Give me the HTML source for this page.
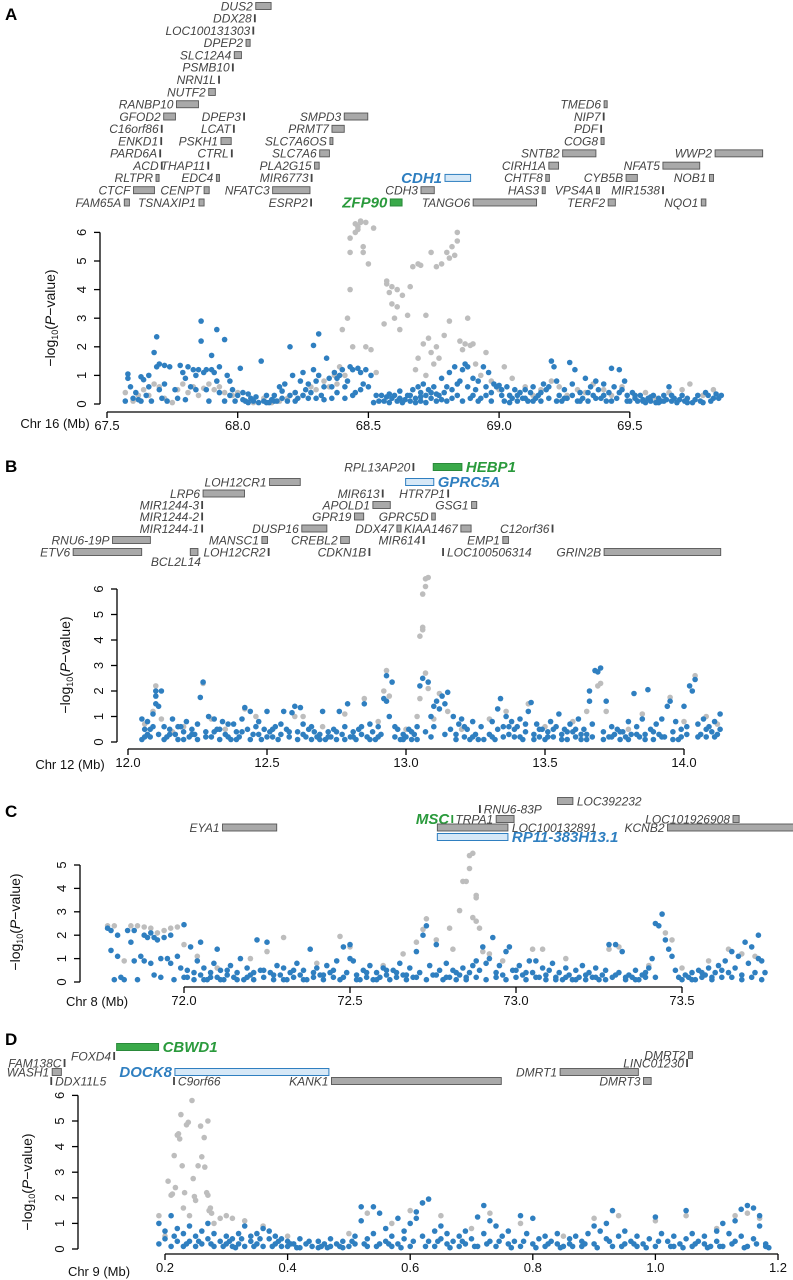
<!DOCTYPE html>
<html><head><meta charset="utf-8">
<style>
html,body{margin:0;padding:0;background:#fff;}
svg{display:block;font-family:"Liberation Sans",Arial,sans-serif;}
.gl{font-style:italic;font-size:12px;fill:#444;}
.tk{font-size:13px;fill:#111;}
</style></head>
<body>
<svg id="fig" width="793" height="1280" viewBox="0 0 793 1280" xmlns="http://www.w3.org/2000/svg"></svg>
<script>
// ===== DATA =====
const panelLabels = ["A","B","C","D"];
const chromLabels = ["Chr 16 (Mb)","Chr 12 (Mb)","Chr 8 (Mb)","Chr 9 (Mb)"];
const xTicksA = [67.5,68.0,68.5,69.0,69.5];
const xTicksB = [12.0,12.5,13.0,13.5,14.0];
const xTicksC = [72.0,72.5,73.0,73.5];
const xTicksD = [0.2,0.4,0.6,0.8,1.0,1.2];
const yTicksA = [0,1,2,3,4,5,6];
const yTicksB = [0,1,2,3,4,5,6];
const yTicksC = [0,1,2,3,4,5];
const yTicksD = [0,1,2,3,4,5,6];

const blueA = [[67.57,0.1],[67.58,0.9],[67.58,1.05],[67.6,0.2],[67.61,0.4],[67.62,0.15],[67.63,0.95],[67.64,0.85],[67.65,0.3],[67.66,1.0],[67.67,0.1],[67.68,1.8],[67.69,2.35],[67.69,1.3],[67.7,0.5],[67.7,1.4],[67.71,0.2],[67.72,1.35],[67.72,0.7],[67.74,1.3],[67.76,0.5],[67.77,0.2],[67.78,1.35],[67.79,1.1],[67.8,0.15],[67.81,1.3],[67.82,0.6],[67.83,1.2],[67.84,1.0],[67.85,1.2],[67.86,2.9],[67.86,2.2],[67.87,1.1],[67.88,0.5],[67.88,1.2],[67.89,0.1],[67.9,1.7],[67.9,1.2],[67.91,1.1],[67.92,2.6],[67.93,1.3],[67.93,0.4],[67.95,2.25],[67.95,0.1],[67.96,1.0],[67.97,0.8],[67.98,0.5],[67.99,0.1],[68.0,0.3],[68.01,1.25],[68.02,0.4],[68.03,0.1],[68.04,0.05],[68.05,0.2],[68.06,0.1],[68.08,0.05],[68.09,1.5],[68.1,0.1],[68.11,0.3],[68.12,0.05],[68.13,0.15],[68.14,0.3],[68.15,0.1],[68.16,0.6],[68.17,0.2],[68.18,0.7],[68.19,0.1],[68.2,2.0],[68.2,0.3],[68.21,1.0],[68.22,0.4],[68.23,0.2],[68.24,0.8],[68.25,1.1],[68.26,0.5],[68.27,0.2],[68.28,0.4],[68.29,2.05],[68.29,1.2],[68.3,0.8],[68.31,2.45],[68.31,1.0],[68.32,0.3],[68.33,0.6],[68.34,1.6],[68.35,0.9],[68.36,0.2],[68.37,1.1],[68.38,0.4],[68.39,1.0],[68.4,1.2],[68.41,0.2],[68.42,0.8],[68.43,1.3],[68.44,1.2],[68.45,0.4],[68.46,1.25],[68.47,1.1],[68.48,0.7],[68.49,1.2],[68.5,0.6],[68.51,1.0],[68.52,0.05],[68.53,0.3],[68.55,0.3],[68.56,0.1],[68.57,0.25],[68.58,0.05],[68.59,0.2],[68.6,0.3],[68.61,0.1],[68.62,0.2],[68.63,0.05],[68.64,0.15],[68.65,0.3],[68.66,0.1],[68.67,0.5],[68.68,0.2],[68.69,0.6],[68.7,0.4],[68.7,0.1],[68.71,0.7],[68.72,0.3],[68.73,0.5],[68.74,0.2],[68.75,0.6],[68.76,0.1],[68.77,0.3],[68.78,0.9],[68.79,0.4],[68.8,0.1],[68.81,1.1],[68.82,0.5],[68.83,1.3],[68.84,0.3],[68.85,0.8],[68.86,1.2],[68.87,1.4],[68.88,0.6],[68.88,1.3],[68.89,0.2],[68.9,0.9],[68.91,0.5],[68.92,0.8],[68.93,0.2],[68.94,1.3],[68.95,0.6],[68.96,1.1],[68.97,0.4],[68.98,0.7],[68.99,0.6],[69.0,0.65],[69.01,0.3],[69.02,0.1],[69.03,0.6],[69.04,0.3],[69.05,0.2],[69.06,0.5],[69.07,0.1],[69.08,0.4],[69.09,0.2],[69.1,0.5],[69.11,0.1],[69.12,0.4],[69.13,0.6],[69.14,0.2],[69.15,0.3],[69.16,0.1],[69.17,0.7],[69.18,0.5],[69.19,0.2],[69.2,1.5],[69.21,1.3],[69.22,0.8],[69.23,0.3],[69.24,0.1],[69.25,0.5],[69.26,0.2],[69.27,1.45],[69.28,0.7],[69.29,1.2],[69.3,0.1],[69.31,0.4],[69.32,0.2],[69.33,0.9],[69.34,0.1],[69.35,0.6],[69.36,0.3],[69.37,0.8],[69.38,0.5],[69.39,0.2],[69.4,0.7],[69.41,0.1],[69.42,0.4],[69.43,1.25],[69.44,0.6],[69.45,0.2],[69.46,1.2],[69.47,0.5],[69.48,0.8],[69.49,0.3],[69.5,0.1],[69.51,0.4],[69.52,0.2],[69.53,0.1],[69.54,0.3],[69.55,0.15],[69.56,0.05],[69.57,0.2],[69.58,0.1],[69.59,0.3],[69.6,0.05],[69.61,0.2],[69.62,0.1],[69.63,0.3],[69.64,0.15],[69.65,0.6],[69.66,0.1],[69.67,0.2],[69.68,0.05],[69.7,0.3],[69.71,0.1],[69.72,0.2],[69.74,0.05],[69.75,0.15],[69.77,0.1],[69.79,0.4],[69.8,0.3],[69.81,0.1],[69.83,0.35],[69.84,0.2]];
const blueA2 = [[67.59,0.6],[67.63,0.1],[67.66,0.6],[67.73,0.1],[67.8,0.9],[67.84,0.5],[67.92,0.8],[67.97,0.3],[68.02,0.15],[68.04,0.35],[68.07,0.25],[68.11,0.05],[68.14,0.1],[68.17,0.45],[68.22,0.1],[68.25,0.3],[68.27,0.7],[68.3,0.2],[68.33,0.15],[68.36,0.6],[68.38,0.9],[68.41,0.6],[68.44,0.3],[68.47,0.5],[68.54,0.1],[68.58,0.35],[68.62,0.45],[68.66,0.3],[68.68,0.05],[68.7,0.25],[68.72,0.05],[68.74,0.4],[68.76,0.35],[68.78,0.15],[68.8,0.6],[68.82,0.2],[68.84,0.7],[68.86,0.1],[68.9,0.3],[68.92,0.1],[68.95,0.3],[68.97,0.1],[69.01,0.5],[69.04,0.05],[69.07,0.3],[69.1,0.2],[69.13,0.1],[69.16,0.4],[69.19,0.6],[69.22,0.1],[69.25,0.2],[69.28,0.3],[69.31,0.1],[69.34,0.4],[69.37,0.2],[69.4,0.3],[69.43,0.1],[69.46,0.4],[69.49,0.1],[69.52,0.3],[69.55,0.1],[69.58,0.25],[69.61,0.05],[69.63,0.1],[69.66,0.3],[69.69,0.15],[69.72,0.05],[69.76,0.3],[69.78,0.05],[69.82,0.2],[69.85,0.3]];
const greyA = [[67.57,0.4],[67.6,0.1],[67.62,0.3],[67.64,0.5],[67.66,0.3],[67.68,0.7],[67.7,0.6],[67.72,0.2],[67.75,0.05],[67.77,0.5],[67.79,0.7],[67.81,0.4],[67.83,0.6],[67.85,0.3],[67.87,0.55],[67.89,0.7],[67.91,0.5],[67.93,0.6],[67.95,0.4],[67.98,0.3],[68.0,0.4],[68.03,0.1],[68.06,0.05],[68.1,0.2],[68.13,0.05],[68.16,0.1],[68.19,0.2],[68.22,0.4],[68.25,0.3],[68.28,0.6],[68.3,0.5],[68.33,0.8],[68.35,0.6],[68.37,1.0],[68.38,0.7],[68.39,1.3],[68.4,2.6],[68.41,1.0],[68.42,3.0],[68.43,4.0],[68.43,5.3],[68.43,5.8],[68.44,2.0],[68.45,6.0],[68.45,6.3],[68.46,6.1],[68.46,6.2],[68.47,6.4],[68.47,6.35],[68.48,5.3],[68.48,5.5],[68.49,2.0],[68.49,6.35],[68.5,4.9],[68.51,1.9],[68.52,6.15],[68.53,1.1],[68.56,2.8],[68.57,4.2],[68.57,4.3],[68.58,3.9],[68.59,3.5],[68.59,4.1],[68.6,3.0],[68.61,3.4],[68.61,4.0],[68.62,2.6],[68.63,3.8],[68.65,3.1],[68.66,4.1],[68.67,4.8],[68.68,1.2],[68.69,4.9],[68.69,1.6],[68.7,4.85],[68.71,2.1],[68.72,3.1],[68.72,1.0],[68.73,2.3],[68.74,1.8],[68.74,5.3],[68.75,1.4],[68.76,4.8],[68.76,2.0],[68.77,1.6],[68.78,4.9],[68.79,2.4],[68.8,5.3],[68.81,5.1],[68.81,2.9],[68.82,5.5],[68.83,5.2],[68.84,6.0],[68.84,5.7],[68.85,2.2],[68.86,1.9],[68.87,2.1],[68.88,3.0],[68.89,2.05],[68.9,2.1],[68.91,1.4],[68.93,1.0],[68.95,1.8],[68.97,0.8],[69.0,0.5],[69.02,1.3],[69.05,0.9],[69.08,0.4],[69.1,0.6],[69.13,0.3],[69.16,0.5],[69.2,0.8],[69.23,0.6],[69.26,0.3],[69.3,0.5],[69.33,0.4],[69.36,0.7],[69.4,0.5],[69.43,0.3],[69.47,0.6],[69.52,0.3],[69.56,0.4],[69.6,0.2],[69.65,0.4],[69.7,0.5],[69.73,0.7],[69.78,0.3],[69.82,0.5]];

const blueB = [[12.05,0.9],[12.05,0.1],[12.06,0.5],[12.07,0.3],[12.07,0.8],[12.08,0.2],[12.09,1.1],[12.09,0.6],[12.1,2.0],[12.1,1.5],[12.1,1.8],[12.11,1.4],[12.11,0.3],[12.12,2.0],[12.13,0.6],[12.14,0.2],[12.15,0.5],[12.16,0.9],[12.17,0.3],[12.18,0.1],[12.19,0.6],[12.2,0.4],[12.21,0.8],[12.22,0.2],[12.23,0.5],[12.24,0.3],[12.25,0.7],[12.26,1.75],[12.27,2.35],[12.28,0.4],[12.29,1.0],[12.3,0.2],[12.31,0.9],[12.32,0.5],[12.33,0.1],[12.34,0.8],[12.35,0.3],[12.36,0.7],[12.37,0.1],[12.38,0.7],[12.39,0.4],[12.4,0.2],[12.41,0.9],[12.42,1.35],[12.43,0.5],[12.44,1.2],[12.45,0.3],[12.46,0.6],[12.47,0.8],[12.48,0.1],[12.49,0.5],[12.5,1.2],[12.51,0.4],[12.52,0.2],[12.53,0.6],[12.54,0.1],[12.55,0.3],[12.56,1.2],[12.57,0.5],[12.58,0.2],[12.59,1.15],[12.6,1.4],[12.61,0.4],[12.62,1.35],[12.63,0.7],[12.64,0.2],[12.65,0.5],[12.66,0.1],[12.67,0.4],[12.68,0.2],[12.69,0.3],[12.7,1.2],[12.71,0.1],[12.72,0.4],[12.73,0.2],[12.74,0.5],[12.75,0.1],[12.76,1.2],[12.77,0.3],[12.78,0.6],[12.79,1.5],[12.8,0.2],[12.81,0.4],[12.82,0.1],[12.83,0.5],[12.84,0.3],[12.85,1.5],[12.86,0.2],[12.87,0.7],[12.88,0.4],[12.89,0.1],[12.9,0.6],[12.91,0.3],[12.92,1.7],[12.93,2.6],[12.93,1.6],[12.94,1.0],[12.95,2.35],[12.96,0.2],[12.97,0.5],[12.98,0.1],[12.99,0.3],[13.0,0.2],[13.01,0.5],[13.02,0.1],[13.03,0.3],[13.04,0.6],[13.05,2.2],[13.06,2.5],[13.07,0.4],[13.08,2.35],[13.09,1.0],[13.1,1.4],[13.1,0.6],[13.11,1.6],[13.12,1.3],[13.13,1.8],[13.14,1.5],[13.15,1.95],[13.16,0.5],[13.17,1.0],[13.18,0.3],[13.19,0.7],[13.2,0.9],[13.21,0.2],[13.22,0.5],[13.23,0.1],[13.24,0.8],[13.25,0.3],[13.26,0.1],[13.27,0.6],[13.3,0.3],[13.31,0.8],[13.32,0.1],[13.33,1.3],[13.34,1.7],[13.35,0.6],[13.36,1.0],[13.37,0.3],[13.38,0.8],[13.39,0.2],[13.4,0.6],[13.41,0.9],[13.42,0.1],[13.43,0.4],[13.44,1.2],[13.45,1.55],[13.46,0.3],[13.47,0.7],[13.48,0.2],[13.49,0.5],[13.5,0.1],[13.51,0.4],[13.52,0.8],[13.53,0.2],[13.54,0.6],[13.55,1.1],[13.56,0.3],[13.57,0.5],[13.58,0.1],[13.59,0.7],[13.6,0.4],[13.61,0.2],[13.62,0.9],[13.63,0.1],[13.64,0.5],[13.65,0.3],[13.66,2.0],[13.66,1.6],[13.67,0.7],[13.68,2.8],[13.69,2.75],[13.7,2.9],[13.71,0.4],[13.72,1.6],[13.73,0.2],[13.74,0.6],[13.75,0.3],[13.76,0.5],[13.77,0.1],[13.78,0.4],[13.79,0.2],[13.8,0.8],[13.81,0.3],[13.82,1.9],[13.83,0.6],[13.84,0.2],[13.85,0.9],[13.86,0.3],[13.87,2.05],[13.88,0.5],[13.89,0.1],[13.9,0.7],[13.91,0.3],[13.92,0.9],[13.93,0.2],[13.94,1.4],[13.95,1.6],[13.96,0.4],[13.97,0.8],[13.98,0.1],[13.99,0.5],[14.0,1.4],[14.01,0.6],[14.02,2.2],[14.03,2.0],[14.04,2.45],[14.05,0.7],[14.06,0.3],[14.07,0.9],[14.08,0.2],[14.09,0.6],[14.1,0.4],[14.11,0.8],[14.12,0.3],[14.13,1.1]];
const blueB2 = [[12.06,0.2],[12.08,0.5],[12.13,0.1],[12.15,0.3],[12.18,0.6],[12.2,0.1],[12.23,0.3],[12.25,0.1],[12.28,0.2],[12.31,0.4],[12.33,0.5],[12.36,0.2],[12.39,0.1],[12.41,0.4],[12.44,0.1],[12.47,0.3],[12.5,0.2],[12.52,0.5],[12.55,0.7],[12.58,0.4],[12.61,0.1],[12.63,0.3],[12.66,0.6],[12.69,0.1],[12.72,0.2],[12.75,0.4],[12.78,0.1],[12.81,0.2],[12.84,0.6],[12.87,0.1],[12.9,0.2],[12.96,0.6],[12.99,0.1],[13.02,0.4],[13.04,0.1],[13.09,0.2],[13.14,0.3],[13.18,0.1],[13.21,0.6],[13.24,0.2],[13.28,0.1],[13.31,0.2],[13.33,0.5],[13.35,0.2],[13.37,0.6],[13.39,0.5],[13.41,0.2],[13.43,0.7],[13.46,0.1],[13.48,0.5],[13.51,0.2],[13.53,0.5],[13.56,0.1],[13.58,0.4],[13.61,0.5],[13.63,0.3],[13.65,0.1],[13.67,0.2],[13.71,0.1],[13.74,0.2],[13.77,0.4],[13.8,0.1],[13.83,0.3],[13.86,0.1],[13.89,0.4],[13.92,0.2],[13.96,0.1],[13.99,0.2],[14.01,0.3],[14.05,0.2],[14.08,0.5],[14.11,0.2],[14.13,0.5]];
const greyB = [[12.06,0.7],[12.09,1.2],[12.1,2.2],[12.12,0.9],[12.16,0.4],[12.2,0.6],[12.27,2.3],[12.3,0.9],[12.35,0.5],[12.42,1.3],[12.46,1.0],[12.52,0.5],[12.6,1.0],[12.63,1.0],[12.7,0.6],[12.78,1.1],[12.85,1.7],[12.9,0.8],[12.92,2.0],[12.93,2.8],[12.94,1.8],[13.0,0.5],[13.04,1.0],[13.05,1.7],[13.05,4.15],[13.06,4.4],[13.06,4.5],[13.06,5.8],[13.07,6.1],[13.07,6.4],[13.08,6.45],[13.07,2.7],[13.08,2.1],[13.1,0.9],[13.12,1.9],[13.15,1.2],[13.2,0.5],[13.3,0.9],[13.36,1.2],[13.44,1.5],[13.5,0.6],[13.6,0.8],[13.65,1.2],[13.69,2.2],[13.7,2.3],[13.72,1.2],[13.8,0.5],[13.85,1.1],[13.95,1.75],[14.0,0.8],[14.04,2.6],[14.08,1.0],[14.12,0.7]];

const blueC = [[71.77,2.3],[71.78,2.2],[71.78,1.35],[71.79,0.1],[71.8,2.0],[71.8,1.1],[71.81,0.2],[71.82,0.1],[71.83,2.2],[71.84,1.7],[71.85,0.9],[71.85,2.2],[71.86,0.1],[71.87,1.1],[71.88,2.0],[71.88,0.9],[71.89,1.9],[71.9,2.1],[71.9,0.8],[71.91,1.9],[71.91,0.3],[71.92,1.8],[71.93,1.0],[71.93,0.2],[71.94,1.9],[71.95,1.0],[71.96,2.0],[71.96,0.8],[71.97,0.1],[71.98,1.1],[71.99,0.6],[72.0,2.45],[72.0,0.2],[72.01,0.5],[72.02,1.5],[72.03,0.1],[72.04,0.9],[72.05,1.7],[72.05,0.3],[72.06,0.6],[72.07,0.1],[72.08,0.4],[72.09,0.8],[72.1,1.4],[72.1,0.2],[72.11,0.5],[72.12,0.1],[72.13,0.3],[72.14,0.7],[72.15,0.2],[72.16,0.4],[72.17,1.0],[72.18,0.1],[72.19,0.6],[72.2,0.3],[72.21,0.1],[72.22,1.8],[72.23,0.5],[72.24,0.2],[72.25,1.7],[72.26,0.4],[72.27,0.1],[72.28,0.7],[72.29,0.3],[72.3,0.6],[72.31,0.1],[72.32,0.4],[72.33,0.2],[72.34,0.8],[72.35,0.3],[72.36,0.5],[72.37,0.1],[72.38,1.4],[72.39,0.2],[72.4,0.6],[72.41,0.3],[72.42,0.1],[72.43,0.7],[72.44,0.4],[72.45,0.2],[72.46,0.9],[72.47,0.1],[72.48,1.5],[72.49,0.4],[72.5,1.6],[72.5,1.0],[72.51,0.9],[72.52,0.3],[72.53,0.1],[72.54,0.5],[72.55,0.2],[72.56,0.7],[72.57,0.1],[72.58,0.4],[72.59,0.2],[72.6,0.6],[72.61,0.3],[72.62,0.1],[72.63,0.5],[72.64,0.2],[72.65,0.8],[72.66,0.3],[72.67,0.1],[72.68,0.6],[72.69,0.2],[72.7,1.3],[72.71,0.4],[72.72,2.0],[72.73,2.4],[72.74,0.7],[72.75,0.3],[72.76,1.6],[72.77,0.5],[72.78,0.1],[72.79,0.8],[72.8,0.2],[72.81,0.5],[72.82,0.1],[72.83,0.3],[72.84,0.6],[72.85,0.2],[72.86,0.4],[72.87,0.7],[72.88,0.9],[72.89,0.5],[72.9,1.5],[72.91,0.8],[72.92,1.0],[72.93,1.9],[72.94,0.4],[72.95,0.7],[72.96,0.3],[72.97,1.3],[72.98,1.5],[72.99,0.5],[73.0,0.2],[73.01,0.7],[73.02,0.3],[73.03,0.1],[73.04,0.9],[73.05,0.4],[73.06,0.9],[73.07,0.2],[73.08,0.6],[73.09,0.1],[73.1,0.5],[73.11,0.8],[73.12,0.2],[73.13,0.4],[73.14,0.1],[73.15,0.6],[73.16,0.3],[73.17,0.1],[73.18,0.5],[73.19,0.2],[73.2,0.7],[73.21,0.1],[73.22,0.4],[73.23,0.2],[73.24,0.6],[73.25,0.1],[73.26,0.3],[73.27,0.5],[73.28,1.6],[73.29,0.2],[73.3,1.6],[73.31,0.4],[73.32,1.3],[73.33,0.1],[73.34,0.3],[73.35,0.2],[73.36,0.5],[73.37,0.1],[73.38,0.3],[73.39,0.2],[73.4,0.6],[73.41,1.0],[73.42,2.5],[73.43,2.4],[73.44,2.9],[73.45,1.8],[73.46,1.4],[73.47,1.1],[73.48,0.5],[73.5,0.1],[73.51,0.3],[73.52,0.2],[73.53,0.4],[73.54,0.1],[73.55,0.5],[73.56,0.2],[73.57,0.3],[73.58,0.6],[73.59,0.1],[73.6,0.4],[73.61,0.7],[73.62,0.2],[73.63,0.9],[73.64,0.4],[73.65,1.3],[73.66,0.6],[73.67,1.1],[73.68,0.3],[73.69,1.7],[73.7,0.8],[73.71,1.5],[73.72,0.4],[73.73,2.0],[73.73,1.0],[73.74,0.1],[73.74,0.9]];
const blueC2 = [[72.01,0.2],[72.03,0.4],[72.06,0.1],[72.08,0.2],[72.11,0.1],[72.13,0.5],[72.16,0.1],[72.19,0.2],[72.21,0.4],[72.24,0.5],[72.27,0.3],[72.3,0.1],[72.33,0.5],[72.36,0.1],[72.39,0.4],[72.42,0.3],[72.45,0.5],[72.48,0.2],[72.52,0.1],[72.55,0.4],[72.58,0.1],[72.61,0.5],[72.64,0.4],[72.67,0.3],[72.7,0.2],[72.73,0.1],[72.76,0.3],[72.79,0.2],[72.82,0.4],[72.85,0.1],[72.88,0.2],[72.91,0.1],[72.94,0.2],[72.97,0.1],[73.0,0.5],[73.03,0.4],[73.06,0.2],[73.09,0.3],[73.12,0.1],[73.15,0.2],[73.18,0.1],[73.21,0.3],[73.24,0.2],[73.27,0.1],[73.3,0.3],[73.33,0.2],[73.36,0.1],[73.39,0.4],[73.42,0.2],[73.49,0.2],[73.53,0.1],[73.56,0.4],[73.59,0.2],[73.62,0.5],[73.65,0.2],[73.68,0.1],[73.71,0.2],[73.75,0.4]];
const greyC = [[71.77,2.4],[71.79,2.4],[71.82,0.9],[71.84,2.4],[71.86,2.4],[71.88,2.35],[71.9,2.3],[71.92,2.1],[71.94,2.2],[71.96,2.3],[71.98,2.35],[72.0,1.6],[72.04,1.1],[72.1,0.6],[72.2,1.0],[72.25,1.3],[72.3,1.9],[72.4,0.8],[72.47,1.95],[72.5,1.5],[72.6,0.7],[72.66,1.2],[72.7,1.7],[72.72,2.25],[72.73,2.7],[72.76,1.8],[72.8,2.3],[72.81,1.4],[72.83,3.05],[72.84,4.3],[72.85,4.3],[72.86,4.85],[72.86,5.4],[72.87,5.5],[72.88,3.7],[72.88,3.6],[72.87,2.75],[72.88,2.6],[72.89,2.3],[72.9,1.3],[72.92,1.2],[72.96,0.9],[73.05,1.4],[73.08,1.4],[73.15,1.0],[73.28,1.4],[73.31,1.5],[73.4,0.7],[73.45,2.1],[73.47,1.8],[73.5,0.6],[73.58,0.9],[73.64,1.4],[73.68,1.2],[73.72,1.1]];

const blueD = [[0.19,1.0],[0.19,0.2],[0.2,0.7],[0.2,0.4],[0.21,1.3],[0.21,0.1],[0.22,0.8],[0.22,0.3],[0.23,0.6],[0.23,0.1],[0.24,0.9],[0.24,0.3],[0.25,0.5],[0.25,0.1],[0.26,0.7],[0.26,0.2],[0.27,1.0],[0.27,0.4],[0.28,0.1],[0.28,0.6],[0.29,0.3],[0.3,0.2],[0.3,0.5],[0.31,0.1],[0.31,0.4],[0.32,0.6],[0.32,0.2],[0.33,0.9],[0.33,0.1],[0.34,0.5],[0.34,0.3],[0.35,0.2],[0.35,0.6],[0.36,0.8],[0.36,0.1],[0.37,0.4],[0.37,0.7],[0.38,0.2],[0.38,0.5],[0.39,0.1],[0.39,0.4],[0.4,0.3],[0.4,0.1],[0.41,0.2],[0.42,0.4],[0.42,0.05],[0.43,0.2],[0.44,0.1],[0.45,0.3],[0.45,0.05],[0.46,0.2],[0.47,0.1],[0.47,0.4],[0.48,0.2],[0.49,0.05],[0.49,0.3],[0.5,0.1],[0.51,0.5],[0.51,0.2],[0.52,1.65],[0.52,1.1],[0.53,0.4],[0.53,0.1],[0.54,1.65],[0.54,0.6],[0.55,1.4],[0.55,0.2],[0.56,0.8],[0.56,0.3],[0.57,0.1],[0.57,0.5],[0.58,1.2],[0.58,0.2],[0.59,0.7],[0.59,0.4],[0.6,1.0],[0.6,0.1],[0.61,1.2],[0.61,1.45],[0.62,1.8],[0.62,0.5],[0.63,1.95],[0.63,0.3],[0.64,0.7],[0.64,0.1],[0.65,0.4],[0.65,0.9],[0.66,0.2],[0.66,0.6],[0.67,0.3],[0.68,0.1],[0.68,0.5],[0.69,0.7],[0.69,0.2],[0.7,0.4],[0.71,1.25],[0.71,0.1],[0.72,1.7],[0.72,0.6],[0.73,1.1],[0.73,0.3],[0.74,0.9],[0.74,0.1],[0.75,0.5],[0.76,0.2],[0.76,0.7],[0.77,0.3],[0.78,1.3],[0.78,0.1],[0.79,0.6],[0.8,1.2],[0.8,0.2],[0.81,0.4],[0.82,0.1],[0.82,0.5],[0.83,0.3],[0.84,0.2],[0.84,0.6],[0.85,0.1],[0.86,0.4],[0.86,0.2],[0.87,0.5],[0.88,0.1],[0.88,0.3],[0.89,0.6],[0.9,0.9],[0.9,0.2],[0.91,0.7],[0.92,0.4],[0.92,1.0],[0.93,1.5],[0.93,0.1],[0.94,0.5],[0.95,0.2],[0.95,0.7],[0.96,0.3],[0.97,0.1],[0.97,0.5],[0.98,0.2],[0.99,0.4],[1.0,1.25],[1.0,0.1],[1.01,0.6],[1.02,0.3],[1.03,0.1],[1.03,0.5],[1.04,0.2],[1.05,1.5],[1.05,0.4],[1.06,0.1],[1.06,0.6],[1.07,0.3],[1.08,0.2],[1.08,0.5],[1.09,0.1],[1.1,0.7],[1.1,0.3],[1.11,1.0],[1.11,0.1],[1.12,0.6],[1.13,0.3],[1.13,1.1],[1.14,1.55],[1.14,0.5],[1.15,1.7],[1.15,0.1],[1.16,1.6],[1.16,0.4],[1.17,1.3],[1.17,0.9],[1.18,0.2],[1.18,0.1]];
const blueD2 = [[0.215,0.5],[0.235,0.2],[0.255,0.3],[0.275,0.2],[0.295,0.1],[0.305,0.3],[0.315,0.05],[0.325,0.4],[0.345,0.1],[0.355,0.4],[0.375,0.1],[0.385,0.3],[0.405,0.2],[0.415,0.05],[0.435,0.3],[0.455,0.1],[0.465,0.05],[0.485,0.1],[0.505,0.3],[0.525,0.2],[0.545,0.1],[0.565,0.2],[0.585,0.05],[0.605,0.3],[0.625,0.1],[0.645,0.3],[0.665,0.05],[0.685,0.3],[0.705,0.1],[0.725,0.2],[0.745,0.3],[0.765,0.05],[0.785,0.3],[0.805,0.05],[0.825,0.2],[0.845,0.05],[0.865,0.1],[0.885,0.2],[0.905,0.05],[0.925,0.3],[0.945,0.1],[0.965,0.2],[0.985,0.05],[1.005,0.3],[1.025,0.1],[1.045,0.05],[1.065,0.2],[1.085,0.05],[1.105,0.1],[1.125,0.2],[1.145,0.05],[1.165,0.2],[1.185,0.05]];
const greyD = [[0.19,1.3],[0.2,0.5],[0.205,2.65],[0.21,2.1],[0.212,2.15],[0.215,3.65],[0.217,2.4],[0.22,4.45],[0.222,4.5],[0.224,4.3],[0.226,5.25],[0.228,3.25],[0.23,1.6],[0.232,2.2],[0.235,4.85],[0.238,4.95],[0.24,1.3],[0.244,5.8],[0.246,2.75],[0.248,2.05],[0.25,1.9],[0.254,3.25],[0.258,4.8],[0.26,3.6],[0.264,4.35],[0.265,3.2],[0.27,5.0],[0.268,2.2],[0.27,2.1],[0.272,1.5],[0.274,1.6],[0.276,1.4],[0.28,1.0],[0.29,1.2],[0.3,1.3],[0.31,1.2],[0.33,1.1],[0.36,0.9],[0.4,0.5],[0.45,0.3],[0.5,0.6],[0.53,1.4],[0.57,1.0],[0.6,1.5],[0.62,1.8],[0.65,1.3],[0.7,0.8],[0.73,1.4],[0.78,1.0],[0.85,0.5],[0.9,1.2],[0.94,1.3],[1.0,1.1],[1.05,1.3],[1.1,0.8],[1.13,1.3],[1.15,1.4],[1.17,1.2]];

// ===== GENE ANNOTATIONS =====
const rA = i => 6 + i*12.28;
const genesA = [
["DUS2",500,530,rA(0),"b","L"],["DDX28",498,498,rA(1),"t","L"],["LOC100131303",495,495,rA(2),"t","L"],["DPEP2",481,489,rA(3),"b","L"],["SLC12A4",458,472,rA(4),"b","L"],["PSMB10",455,455,rA(5),"t","L"],["NRN1L",428,428,rA(6),"t","L"],["NUTF2",408,421,rA(7),"b","L"],["RANBP10",345,388,rA(8),"b","L"],["TMED6",1181,1187,rA(8),"b","L"],
["GFOD2",320,343,rA(9),"b","L"],["DPEP3",477,477,rA(9),"t","L"],["SMPD3",673,719,rA(9),"b","L"],["NIP7",1180,1180,rA(9),"t","L"],
["C16orf86",316,316,rA(10),"t","L"],["LCAT",457,457,rA(10),"t","L"],["PRMT7",649,673,rA(10),"b","L"],["PDF",1175,1175,rA(10),"t","L"],
["ENKD1",315,315,rA(11),"t","L"],["PSKH1",432,452,rA(11),"b","L"],["SLC7A6OS",645,650,rA(11),"b","L"],["COG8",1175,1181,rA(11),"b","L"],
["PARD6A",313,313,rA(12),"t","L"],["CTRL",453,453,rA(12),"t","L"],["SLC7A6",625,644,rA(12),"b","L"],["SNTB2",1100,1165,rA(12),"b","L"],["WWP2",1398,1491,rA(12),"b","L"],
["ACD",316,316,rA(13),"t","L"],["THAP11",407,407,rA(13),"t","L"],["PLA2G15",615,624,rA(13),"b","L"],["CIRH1A",1073,1092,rA(13),"b","L"],["NFAT5",1296,1368,rA(13),"b","L"],
["RLTPR",305,311,rA(14),"b","L"],["EDC4",423,429,rA(14),"b","L"],["MIR6773",609,609,rA(14),"t","L"],["CDH1",870,920,rA(14),"blue","L"],["CHTF8",1067,1074,rA(14),"b","L"],["CYB5B",1224,1246,rA(14),"b","L"],["NOB1",1387,1395,rA(14),"b","L"],
["CTCF",261,302,rA(15),"b","L"],["CENPT",399,409,rA(15),"b","L"],["NFATC3",533,606,rA(15),"b","L"],["CDH3",823,849,rA(15),"b","L"],["HAS3",1060,1066,rA(15),"b","L"],["VPS4A",1166,1172,rA(15),"b","L"],["MIR1538",1296,1296,rA(15),"t","L"],
["FAM65A",243,253,rA(16),"b","L"],["TSNAXIP1",389,399,rA(16),"b","L"],["ESRP2",608,608,rA(16),"t","L"],["ZFP90",763,786,rA(16),"green","L"],["TANGO6",925,1049,rA(16),"b","L"],["TERF2",1189,1203,rA(16),"b","L"],["NQO1",1371,1380,rA(16),"b","L"]
];
const genesB = [
["RPL13AP20",808,808,467,"t","L"],["HEBP1",847,903,467,"green","R"],
["LOH12CR1",527,587,482,"b","L"],["GPRC5A",793,848,482,"blue","R"],
["LRP6",397,478,493.5,"b","L"],["MIR613",748,748,493.5,"t","L"],["HTR7P1",876,876,493.5,"t","L"],
["MIR1244-3",395,395,505,"t","L"],["APOLD1",729,763,505,"b","L"],["GSG1",922,932,505,"b","L"],
["MIR1244-2",395,395,516.5,"t","L"],["GPR19",693,711,516.5,"b","L"],["GPRC5D",844,851,516.5,"b","L"],
["MIR1244-1",395,395,528.5,"t","L"],["DUSP16",590,639,528.5,"b","L"],["DDX47",776,784,528.5,"b","L"],["KIAA1467",901,921,528.5,"b","L"],["C12orf36",1080,1080,528.5,"t","L"],
["RNU6-19P",220,294,540,"b","L"],["MANSC1",512,523,540,"b","L"],["CREBL2",666,683,540,"b","L"],["MIR614",828,828,540,"t","L"],["EMP1",983,994,540,"b","L"],
["ETV6",143,277,552,"b","L"],["BCL2L14",372,387,552,"b","B"],["LOH12CR2",525,525,552,"t","L"],["CDKN1B",722,722,552,"t","L"],["LOC100506314",866,866,552,"t","R"],["GRIN2B",1181,1409,552,"b","L"]
];
const genesC = [
["LOC392232",1090,1120,801,"b","R"],["RNU6-83P",938,938,809,"t","R"],
["MSC",884,884,819,"gtick","L"],["TRPA1",970,1005,819,"b","L"],["LOC101926908",1433,1445,819,"b","L"],
["EYA1",435,541,827.5,"b","L"],["LOC100132891",855,993,827.5,"b","R"],["KCNB2",1305,1565,827.5,"b","L"],
["RP11-383H13.1",855,993,837,"blue","R"]
];
const genesD = [
["CBWD1",228,310,1047,"green","R"],["FOXD4",223,223,1056,"t","L"],["DMRT2",1346,1354,1055,"b","L"],
["FAM138C",126,126,1063,"t","L"],["LINC01230",1343,1343,1063,"t","L"],
["WASH1",102,120,1072,"b","L"],["DOCK8",342,643,1072,"blue","L"],["DMRT1",1095,1248,1072,"b","L"],
["DDX11L5",100,100,1081,"t","R"],["C9orf66",340,340,1081,"t","R"],["KANK1",648,980,1081,"b","L"],["DMRT3",1258,1273,1081,"b","L"]
];

// ===== RENDER =====
const NS="http://www.w3.org/2000/svg";
const svg=document.getElementById("fig");
function mk(tag,attrs,parent){const e=document.createElementNS(NS,tag);for(const k in attrs)e.setAttribute(k,attrs[k]);(parent||svg).appendChild(e);return e;}
const BLUE="#2f7fc0", GREY="#bdbdbd", GREEN="#2a9a3c";

const panels=[
 {id:"a",lab:[5,20],xmin:67.5,x0:107,ppu:261.4,y0:404,ypu:28.6,yax:100,axY:412,xt:xTicksA,yt:yTicksA,blue:blueA.concat(blueA2),grey:greyA,genes:genesA,ytitle:[55,318],chr:[55,429],ylabX:86},
 {id:"b",lab:[5,472],xmin:12.0,x0:128,ppu:278,y0:742,ypu:25.5,yax:117,axY:749,xt:xTicksB,yt:yTicksB,blue:blueB.concat(blueB2),grey:greyB,genes:genesB,ytitle:[70,665],chr:[70,770],ylabX:103},
 {id:"c",lab:[5,817],xmin:72.0,x0:184,ppu:332,y0:982,ypu:23.4,yax:80,axY:987,xt:xTicksC,yt:yTicksC,blue:blueC.concat(blueC2),grey:greyC,genes:genesC,ytitle:[20,922],chr:[97,1007],ylabX:66},
 {id:"d",lab:[5,1045],xmin:0.2,x0:165,ppu:613,y0:1249,ypu:25.6,yax:78,axY:1254,xt:xTicksD,yt:yTicksD,blue:blueD.concat(blueD2),grey:greyD,genes:genesD,ytitle:[32,1182],chr:[99,1277],ylabX:64}
];

panels.forEach((p,pi)=>{
 const g=mk("g",{});
 
 
 const X=v=>p.x0+(v-p.xmin)*p.ppu;
 const Y=v=>p.y0-v*p.ypu;
 const pl=mk("text",{x:p.lab[0],y:p.lab[1],"font-size":"17","font-weight":"bold",fill:"#000"},g);
 pl.textContent=panelLabels[pi];
 
 
 const gg=mk("g",{},g);
 
 
 p.genes.forEach(ge=>{
  const [name,z1,z2,yc,kind,side]=ge;
  const x1=z1/1.955,x2=z2/1.955;
  let hl=(kind==="blue"||kind==="green");
  if(kind==="t"||kind==="gtick"){
   mk("rect",{x:x1-0.8,y:yc-4,width:1.8,height:8,fill:kind==="gtick"?GREEN:"#444"},gg);
  }else if(kind==="blue"){
   mk("rect",{x:x1,y:yc-3.5,width:x2-x1,height:7,fill:"#d6e8f7",stroke:BLUE,"stroke-width":1},gg);
  }else if(kind==="green"){
   mk("rect",{x:x1,y:yc-3.5,width:x2-x1,height:7,fill:"#3aa94a",stroke:"#2a8a3a","stroke-width":1},gg);
  }else{
   mk("rect",{x:x1,y:yc-3.5,width:Math.max(x2-x1,3),height:7,fill:"#a9a9a9",stroke:"#555","stroke-width":0.9},gg);
  }
  const t=mk("text",{},gg);
  t.textContent=name;
  
  
  if(hl||kind==="gtick"){
   t.setAttribute("font-size","15");t.setAttribute("font-weight","bold");t.setAttribute("font-style","italic");
   t.setAttribute("fill",kind==="blue"?BLUE:GREEN);
  } else t.setAttribute("class","gl");
  if(side==="L"){t.setAttribute("x",x1-3);t.setAttribute("text-anchor","end");t.setAttribute("y",yc+(hl||kind==="gtick"?5:4.3));}
  else if(side==="R"){t.setAttribute("x",x2+4);t.setAttribute("y",yc+(hl?5:4.3));}
  else {t.setAttribute("x",x2+3);t.setAttribute("text-anchor","end");t.setAttribute("y",yc+14);}
 });
 const pg=mk("g",{},g);
 
 
 p.grey.forEach(d=>{
  const c=mk("circle",{cx:X(d[0]).toFixed(1),cy:Y(d[1]).toFixed(1),r:2.8,fill:GREY},pg);
  
  
 });
 p.blue.forEach(d=>{
  const c=mk("circle",{cx:X(d[0]).toFixed(1),cy:Y(d[1]).toFixed(1),r:2.8,fill:BLUE},pg);
  
  
 });
 const ya=mk("g",{},g);
 
 
 const yt=p.yt;
 mk("line",{x1:p.yax,y1:Y(yt[0]),x2:p.yax,y2:Y(yt[yt.length-1]),stroke:"#000","stroke-width":1.3},ya);
 yt.forEach(v=>{
  mk("line",{x1:p.yax-6,y1:Y(v),x2:p.yax,y2:Y(v),stroke:"#000","stroke-width":1.3},ya);
  const t=mk("text",{x:p.ylabX,y:Y(v),"text-anchor":"middle",class:"tk",transform:`rotate(-90 ${p.ylabX} ${Y(v)})`},ya);
  t.textContent=v;
 });
 const yti=mk("text",{x:p.ytitle[0],y:p.ytitle[1],"text-anchor":"middle","font-size":"14",fill:"#111",transform:`rotate(-90 ${p.ytitle[0]} ${p.ytitle[1]})`},ya);
 yti.innerHTML='−log<tspan font-size="9" dy="3">10</tspan><tspan dy="-3">(</tspan><tspan font-style="italic">P</tspan>−value)';
 
 
 const xa=mk("g",{},g);
 
 
 const xt=p.xt;
 mk("line",{x1:X(xt[0]),y1:p.axY,x2:X(xt[xt.length-1]),y2:p.axY,stroke:"#000","stroke-width":1.3},xa);
 xt.forEach(v=>{
  mk("line",{x1:X(v),y1:p.axY,x2:X(v),y2:p.axY+6,stroke:"#000","stroke-width":1.3},xa);
  const t=mk("text",{x:X(v),y:p.axY+18,"text-anchor":"middle",class:"tk"},xa);
  t.textContent=v.toFixed(1);
 });
 const ct=mk("text",{x:p.chr[0],y:p.chr[1]-1,"text-anchor":"middle",class:"tk"},xa);
 ct.textContent=chromLabels[pi];
 
 
});
</script>
</body></html>
